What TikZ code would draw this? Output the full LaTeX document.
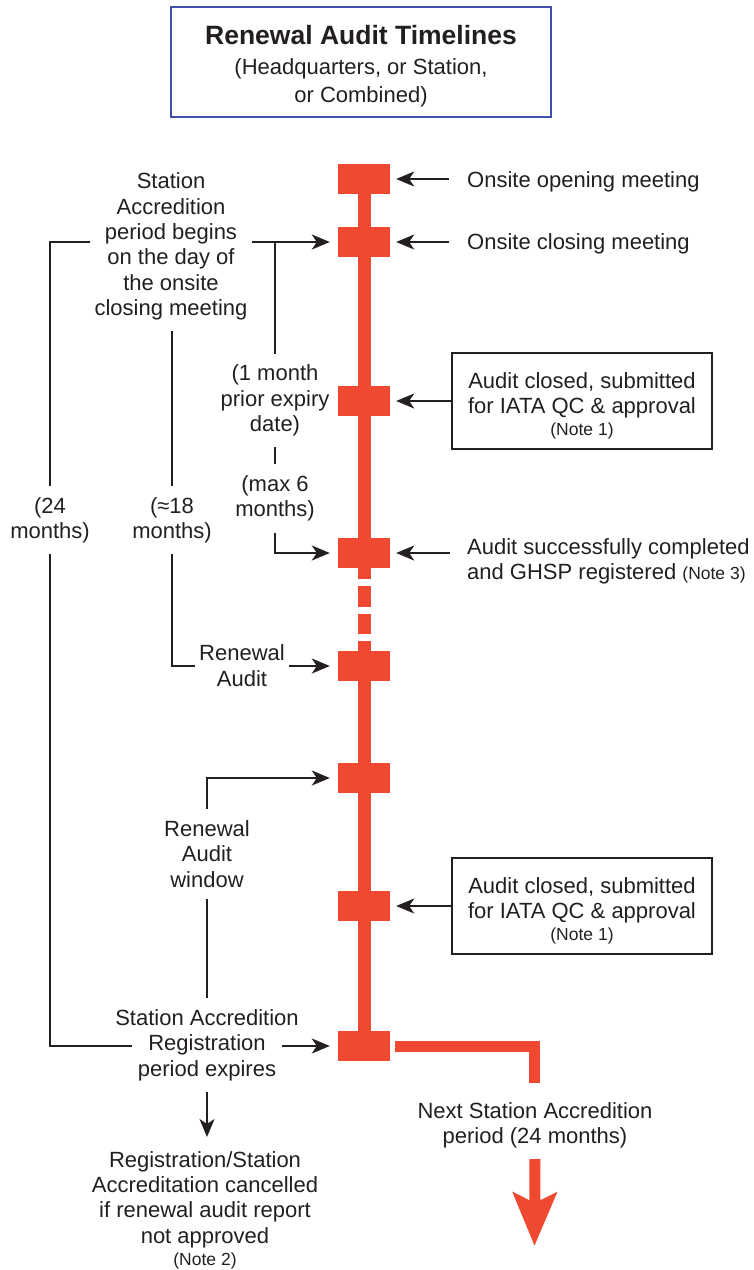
\documentclass[tikz,border=0pt]{standalone}
\usepackage{fontspec}
\setmainfont{Liberation Sans}
\usetikzlibrary{arrows.meta,calc}
\definecolor{barred}{RGB}{240,73,49}
\definecolor{ink}{RGB}{35,31,32}
\definecolor{frameblue}{RGB}{62,80,170}
\newcommand{\notefont}{\fontsize{17.5}{21}\selectfont}

\begin{document}
\begin{tikzpicture}[x=1pt,y=-1pt,
  every node/.style={font=\fontsize{22}{25.4}\selectfont, text=ink},
  lbl/.style={align=center, inner xsep=4pt, inner ysep=11pt},
  side/.style={align=left, inner sep=0pt, anchor=west},
  boxtext/.style={align=center, inner sep=0pt},
  tick/.style={fill=barred, minimum width=52pt, minimum height=30pt, inner sep=0pt},
  spine/.style={draw=barred, line width=13pt, line cap=butt},
  branch/.style={draw=barred, line width=11pt, line cap=butt, line join=miter},
  wire/.style={draw=ink, line width=1.8pt},
  arr/.style={wire, -{Stealth[length=18pt,width=15pt,inset=5pt]}},
  notebox/.style={draw=ink, line width=1.3pt, minimum width=260pt, minimum height=96pt, inner sep=0pt},
  titlebox/.style={draw=frameblue, line width=2.2pt, minimum width=380pt, minimum height=110pt, inner sep=0pt}
]
\useasboundingbox (0,0) rectangle (754,1270);

% heading
\node[titlebox] (title) at (361,62) {};
\node[boxtext] (titletext) at (361,66)
  {{\fontsize{26.5}{31}\selectfont\bfseries Renewal Audit Timelines}\\[4pt]
   (Headquarters, or Station,\\[2.6pt] or Combined)};

% milestones on the timeline
\node[tick] (s1) at (364,179) {};
\node[tick] (s2) at (364,242) {};
\node[tick] (s3) at (364,401) {};
\node[tick] (s4) at (364,553) {};
\node[tick] (s5) at (364,666) {};
\node[tick] (s6) at (364,778) {};
\node[tick] (s7) at (364,906) {};
\node[tick] (s8) at (364,1046) {};

% timeline spine
\draw[spine] (s1.south) -- (s2.north) (s2.south) -- (s3.north) (s3.south) -- (s4.north);
\draw[spine, dash pattern=on 11pt off 7pt on 21pt off 7pt on 20pt off 7pt on 10pt off 50pt] (s4.south) -- (s5.north);
\draw[spine] (s5.south) -- (s6.north) (s6.south) -- (s7.north) (s7.south) -- (s8.north);

% right-hand events
\node[side] (t1) at (467,182) {Onsite opening meeting};
\node[side] (t2) at (467,244) {Onsite closing meeting};
\node[notebox] (b1) at (582,401) {};
\node[boxtext] (b1t) at (582,406) {Audit closed, submitted\\ for IATA QC \& approval\\[-3.4pt] {\notefont (Note 1)}};
\node[side] (t4) at (467,561.5) {Audit successfully completed\\ and GHSP registered {\notefont (Note 3)}};
\node[notebox] (b2) at (582,906) {};
\node[boxtext] (b2t) at (582,911) {Audit closed, submitted\\ for IATA QC \& approval\\[-3.4pt] {\notefont (Note 1)}};

\coordinate (t1a) at ([xshift=-18pt]t1.west);
\coordinate (t2a) at ([xshift=-18pt]t2.west);
\coordinate (t4a) at ([xshift=-17pt]t4.west);
\draw[arr] (t1a |- s1.east) -- ([xshift=6pt]s1.east);
\draw[arr] (t2a |- s2.east) -- ([xshift=6pt]s2.east);
\draw[arr] (b1.west |- s3.east) -- ([xshift=6pt]s3.east);
\draw[arr] (t4a |- s4.east) -- ([xshift=6pt]s4.east);
\draw[arr] (b2.west |- s7.east) -- ([xshift=6pt]s7.east);

% left-hand periods
\node[lbl] (sa) at (171,246.5) {Station\\ Accredition\\ period begins\\ on the day of\\ the onsite\\ closing meeting};
\node[lbl] (mo) at (275,400.5) {(1 month\\ prior expiry\\ date)};
\node[lbl] (m6) at (275,498.5) {(max 6\\ months)};
\node[lbl] (e24) at (50,520) {(24\\ months)};
\node[lbl] (e18) at (172,520) {(≈18\\ months)};
\node[lbl] (ra) at (242,665.5) {Renewal\\ Audit};
\node[lbl] (rw) at (207,854) {Renewal\\ Audit\\ window};
\node[lbl] (sx) at (207,1045) {Station Accredition\\ Registration\\ period expires};
\node[lbl] (rc) at (205,1210) {Registration/Station\\ Accreditation cancelled\\ if renewal audit report\\ not approved\\[-3.5pt] {\notefont (Note 2)}};
\node[lbl] (nx) at (535,1125) {Next Station Accredition\\ period (24 months)};

\draw[wire] (sa.west |- s2.west) -| (e24.north);
\draw[arr] (sa.east |- s2.west) -- ([xshift=-8pt]s2.west);
\draw[wire] (mo.north |- s2.west) -- (mo.north);
\draw[wire] (mo.south) -- (m6.north);
\draw[arr] (m6.south) |- ([xshift=-8pt]s4.west);
\draw[wire] (e18.north |- sa.south) -- (e18.north);
\draw[wire] (e18.south) |- (ra.west |- s5.west);
\draw[arr] (ra.east |- s5.west) -- ([xshift=-8pt]s5.west);
\draw[arr] (rw.north) |- ([xshift=-8pt]s6.west);
\draw[wire] (rw.south) -- (sx.north);
\coordinate (sxl) at ([xshift=-75pt]sx.center);
\coordinate (sxr) at ([xshift=75pt]sx.center);
\draw[wire] (e24.south) |- (sxl |- s8.west);
\draw[arr] (sxr |- s8.west) -- ([xshift=-8pt]s8.west);
\draw[arr, shorten >=3pt] (sx.south) -- (sx.south |- rc.north);

% continuation into the next period
\coordinate (lend) at (534.5,1083);
\coordinate (ntip) at (534.5,1246);
\draw[branch] ([xshift=5pt]s8.east) -| (lend);
\draw[branch, -{Stealth[length=53pt,width=43pt,inset=10pt]}] (nx.south) -- (ntip);
\end{tikzpicture}
\end{document}
